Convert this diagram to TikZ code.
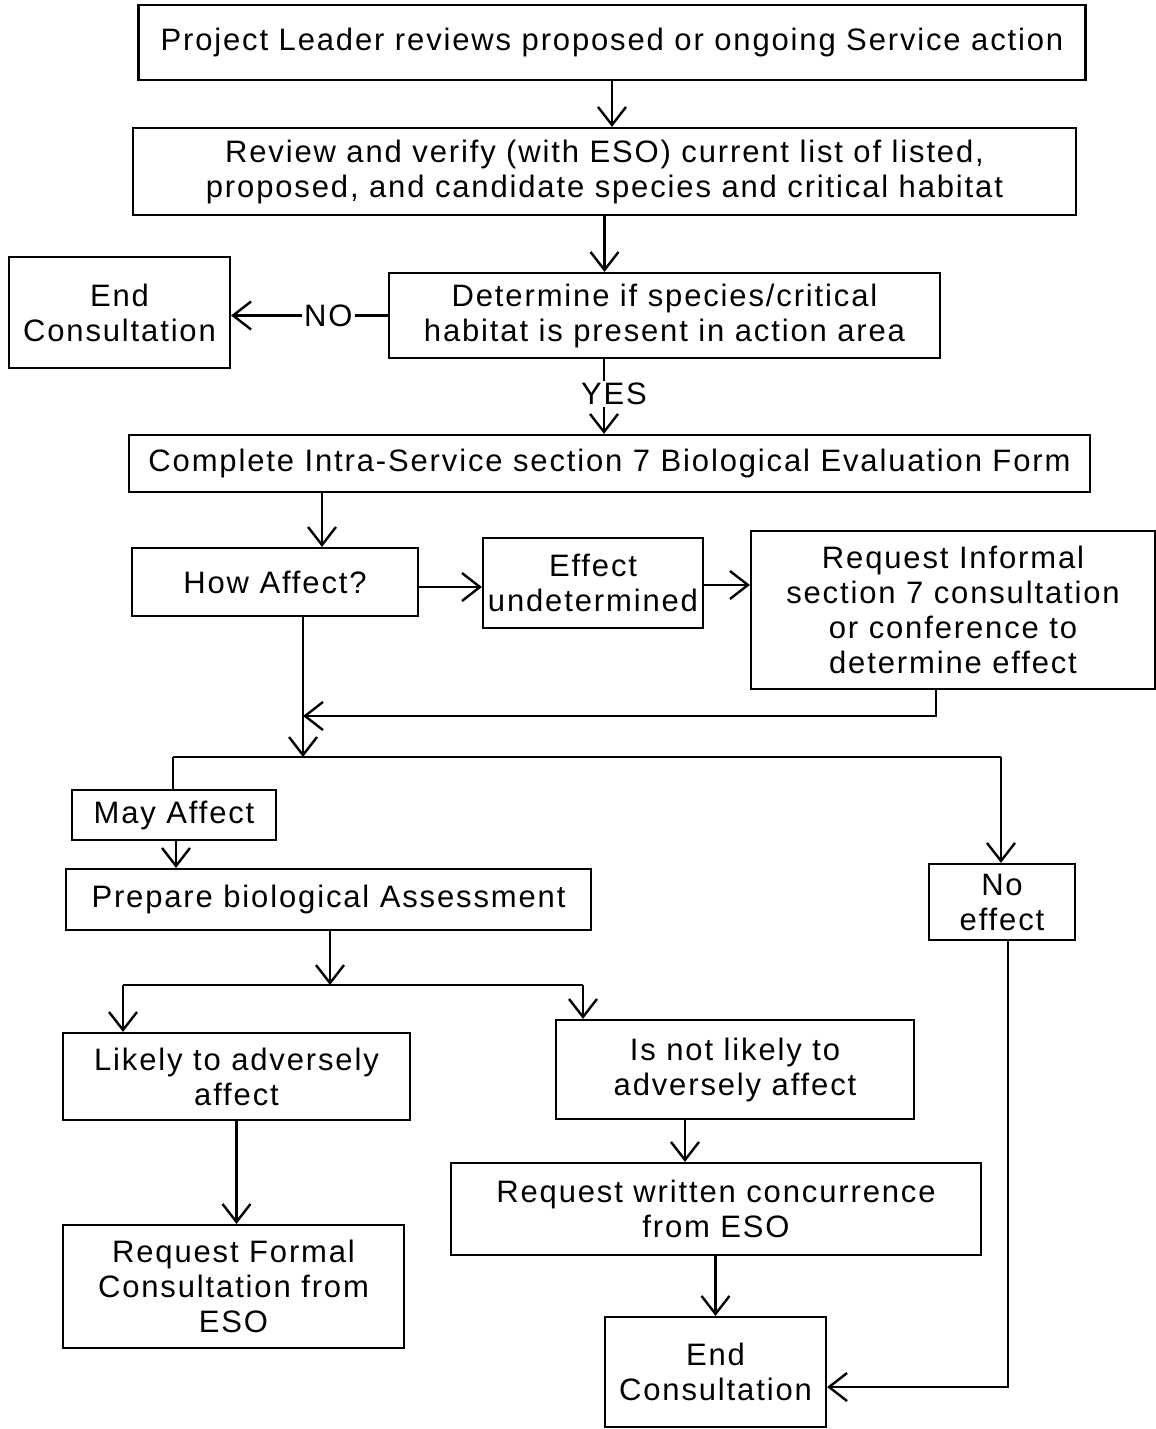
\documentclass[tikz,border=0pt]{standalone}
\usepackage{fontspec}
\setmainfont{Liberation Sans}[LetterSpace=6]
\usetikzlibrary{arrows.meta}

\tikzset{
    box/.style={draw=black, line width=1.1pt, align=center, inner sep=0pt,
        font=\fontsize{15.5pt}{17.5pt}\selectfont},
    lbl/.style={inner sep=1pt, fill=white, font=\fontsize{15.5pt}{17.5pt}\selectfont},
    flow/.style={line width=1.3pt, -{Straight Barb[length=9pt,width=14pt,line width=1.2pt]}},
    wire/.style={line width=1.3pt}
}

\begin{document}
\begin{tikzpicture}[x=0.5pt, y=-0.5pt]
        \useasboundingbox (0,0) rectangle (1156,1429);

        % boxes, top to bottom
        \node (lead) [box, minimum width=473.5pt, minimum height=37.5pt] at (612,42.5) {Project Leader reviews proposed or ongoing Service action};
        \node (review) [box, minimum width=471.5pt, minimum height=43.5pt] at (604.5,171.5) {Review and verify (with ESO) current list of listed,\\proposed, and candidate species and critical habitat};
        \node (endtop) [box, minimum width=110.5pt, minimum height=55.5pt] at (119.5,312.5) {End\\Consultation};
        \node (determine) [box, minimum width=275.5pt, minimum height=42.5pt] at (664.5,315.5) {Determine if species/critical\\habitat is present in action area};
        \node (yes) [lbl] at (614,394) {YES};
        \node (complete) [box, minimum width=480.5pt, minimum height=28.5pt] at (609.5,463.5) {Complete Intra-Service section 7 Biological Evaluation Form};
        \node (how) [box, minimum width=143pt, minimum height=34pt] at (275,582) {How Affect?};
        \node (undet) [box, minimum width=110pt, minimum height=45pt] at (593,583) {Effect\\undetermined};
        \node (informal) [box, minimum width=202pt, minimum height=79pt] at (953,610) {Request Informal\\section 7 consultation\\or conference to\\determine effect};
        \node (may) [box, minimum width=102pt, minimum height=25pt] at (174,815) {May Affect};
        \node (prepare) [box, minimum width=262.5pt, minimum height=30.5pt] at (328.5,899.5) {Prepare biological Assessment};
        \node (noeffect) [box, minimum width=73pt, minimum height=38pt] at (1002,902) {No\\effect};
        \node (likely) [box, minimum width=173.5pt, minimum height=43.5pt] at (236.5,1076.5) {Likely to adversely\\affect};
        \node (notlikely) [box, minimum width=179pt, minimum height=49.5pt] at (735,1069.5) {Is not likely to\\adversely affect};
        \node (written) [box, minimum width=265pt, minimum height=46pt] at (716,1209) {Request written concurrence\\from ESO};
        \node (formal) [box, minimum width=170.5pt, minimum height=61.5pt] at (233.5,1286.5) {Request Formal\\Consultation from\\ESO};
        \node (endbot) [box, minimum width=110.5pt, minimum height=55pt] at (715.5,1372) {End\\Consultation};

        % branch points
        \coordinate (detout) at (604,358);
        \coordinate (compout) at (322,492);
        \coordinate (howout) at (303,616);
        \coordinate (merge) at (303,757);
        \coordinate (infout) at (936,689);
        \coordinate (split) at (173,757);
        \coordinate (splitr) at (1001,757);
        \coordinate (prepout) at (330,985);
        \coordinate (leftb) at (123,985);
        \coordinate (rightb) at (583,985);

        \draw [flow] (lead.south) -- (lead.south |- review.north);
        \draw [flow] (review.south) -- (review.south |- determine.north);
        \draw [flow] (determine.west) -- node [lbl, pos=0.38] {NO} (endtop.east |- determine.west);
        \draw [wire] (detout) -- (detout |- yes.north);
        \draw [flow] (detout |- yes.south) -- (detout |- complete.north);
        \draw [flow] (compout) -- (compout |- how.north);
        \draw [flow] (how.east |- 0,587) -- (undet.west |- 0,587);
        \draw [flow] (undet.east |- 0,585) -- (informal.west |- 0,585);
        \draw [flow] (howout) -- (merge);
        \draw [flow] (infout) -- (infout |- 0,716) -- (howout |- 0,716);
        \draw [wire] (split) -- (splitr);
        \draw [wire] (split) -- (split |- may.north);
        \draw [flow] (splitr) -- (splitr |- noeffect.north);
        \draw [flow] (may.south -| 176,0) -- (prepare.north -| 176,0);
        \draw [flow] (prepare.south -| prepout) -- (prepout);
        \draw [wire] (leftb) -- (rightb);
        \draw [flow] (leftb) -- (leftb |- likely.north);
        \draw [flow] (rightb) -- (rightb |- notlikely.north);
        \draw [flow] (likely.south) -- (likely.south |- formal.north);
        \draw [flow] (notlikely.south -| 685,0) -- (written.north -| 685,0);
        \draw [flow] (written.south -| endbot.north) -- (endbot.north);
        \draw [flow] (noeffect.south -| 1008,0) -- (1008,1387) -- (endbot.east |- 0,1387);
    \end{tikzpicture}
\end{document}
